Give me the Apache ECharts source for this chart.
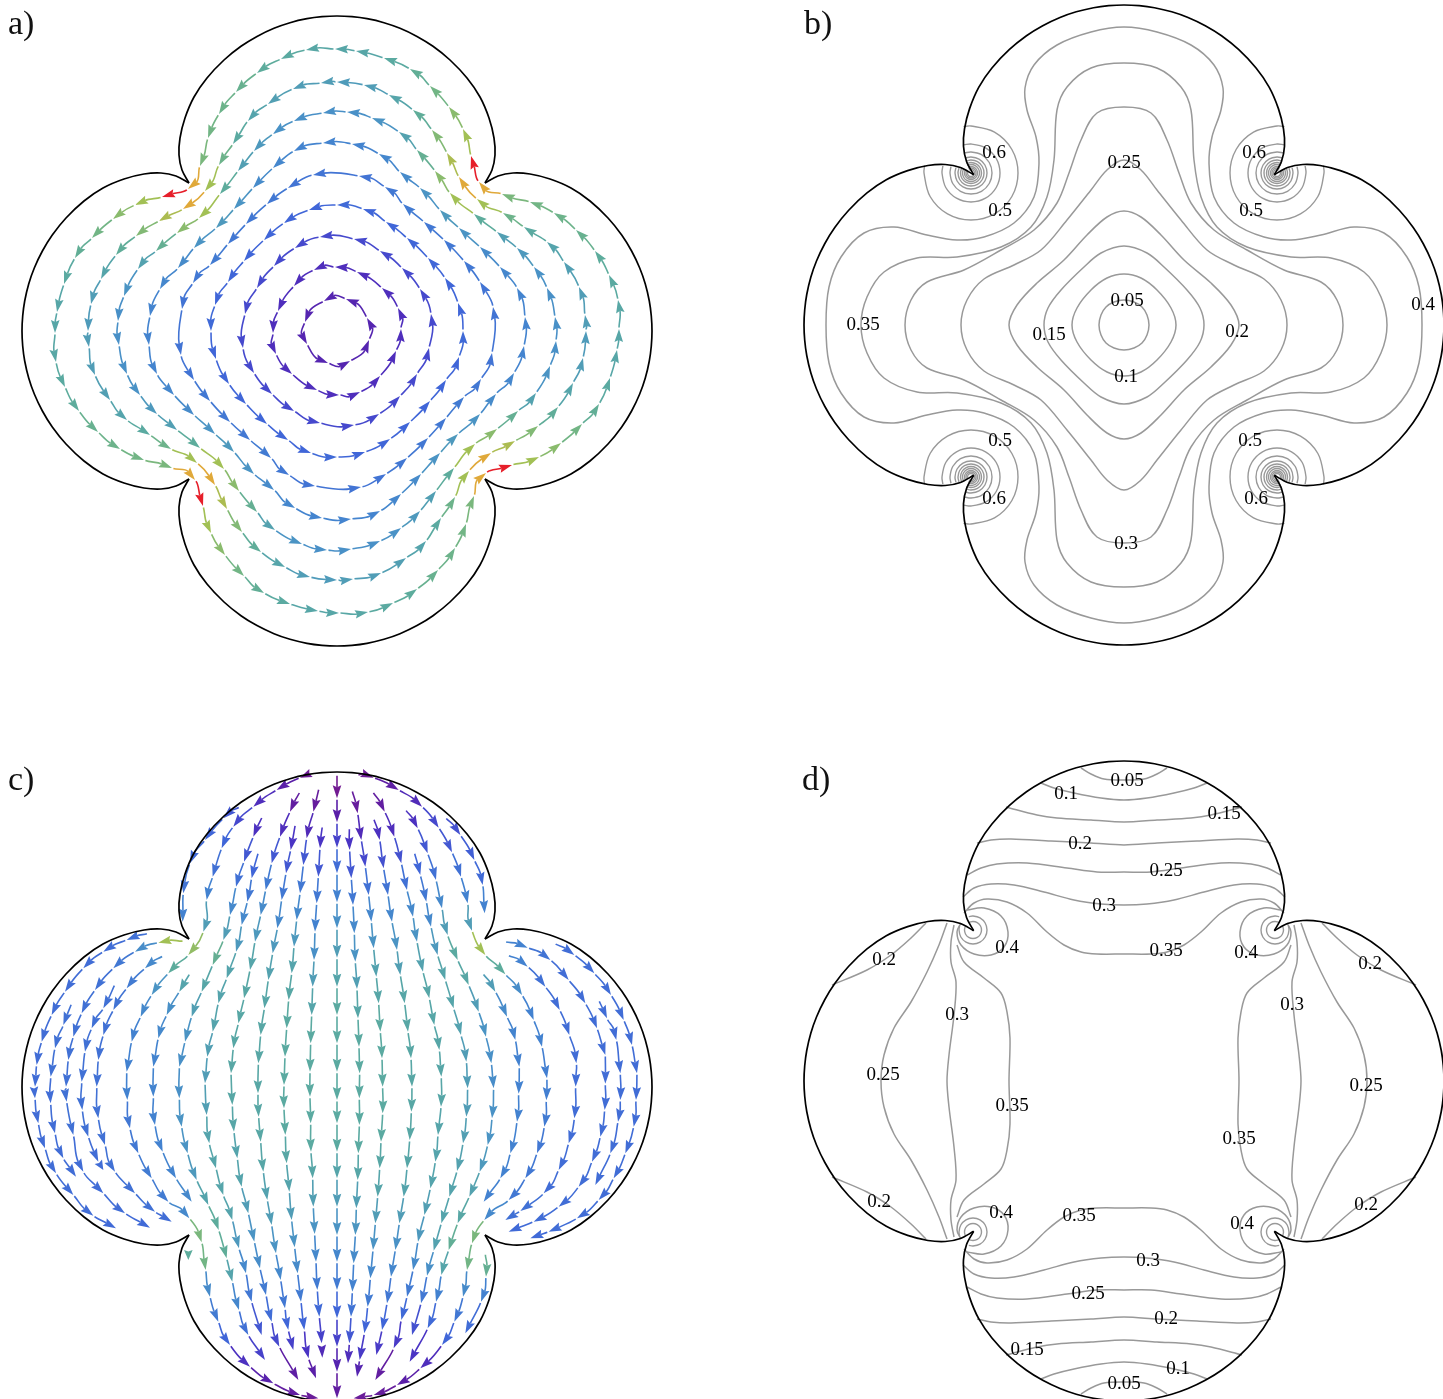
<!DOCTYPE html>
<html><head><meta charset="utf-8">
<style>html,body{margin:0;padding:0;background:#fff}#c{width:1443px;height:1399px}</style>
<script src="https://cdn.jsdelivr.net/npm/echarts@6/dist/echarts.min.js"></script>
</head><body><div id="c"></div>
<script>
// speed colour ramp
const speedStops=[[0,'#7a1a8a'],[.08,'#5a1fa8'],[.15,'#4a34c4'],[.22,'#4066d8'],[.3,'#4382d0'],[.38,'#4b94c4'],[.45,'#55a4ac'],[.52,'#5dac9c'],[.6,'#72b585'],[.72,'#a2c055'],[.85,'#e0a93a'],[.93,'#ea7c2c'],[1,'#e61f2a']];
// outline: half of one lobe, apex to cusp
const lobeHalf=[[0,315],[15,314.3],[30,312.3],[47,308.3],[63,302.7],[80,294.6],[96,284.7],[113,271],[130,253],[143,234],[152,213],[157,193],[158,176],[155,161],[148,148]];
// panel a: one quarter of each circulating streamline [x,y,speed]
const loopsA=[
[[30,13,.1],[9,32,.1]],
[[61,23,.13],[45,43,.13],[20,59,.13],[-2,64,.13]],
[[94,17,.18],[83,42,.18],[65,63,.18],[43,80,.18],[17,92,.18]],
[[121,28,.22],[108,53,.22],[91,73,.22],[70,93,.22],[49,109,.22],[26,122,.22],[0,126,.23]],
[[156,24,.26],[143,49,.26],[127,70,.27],[107,91,.27],[87,109,.27],[66,127,.28],[48,144,.27],[22,155,.26]],
[[188,14,.31],[180,43,.31],[163,64,.32],[143,84,.34],[122,103,.38],[103,121,.4],[83,143,.38],[63,159,.34],[42,177,.32],[15,187,.31]],
[[218,14,.36],[210,43,.36],[197,64,.37],[180,83,.4],[160,99,.43],[137,117,.52],[113,138,.72],[98,160,.66],[80,181,.55],[62,199,.44],[35,213,.38],[10,219,.36]],
[[248,16,.42],[242,44,.42],[227,69,.43],[210,89,.45],[187,104,.5],[166,118,.58],[140,132,.72],[122,154,.85],[110,178,.74],[95,201,.64],[76,221,.53],[52,236,.46],[27,246,.42],[0,249,.41]],
[[281,31,.48],[272,56,.5],[258,80,.52],[239,101,.56],[217,118,.58],[193,129,.6],[165,137,.62],[142,149,.85],[134,175,1],[126,202,.72],[112,224,.66],[93,245,.6],[73,262,.54],[47,273,.5],[19,280,.47],[-2,282,.47]]
];
// panel b: quarter contours, top to right
const contoursB=[
[[0,25],[10,23],[18,18],[23,10],[25,0]],
[[0,51],[17,47],[33,35],[47,17],[52,0]],
[[0,79],[23,72],[40,58],[63,35],[76,17],[80,0]],
[[0,114],[17,108],[37,90],[60,65],[87,42],[107,20],[115,0]],
[[0,165],[17,155],[33,135],[57,105],[83,75],[110,60],[140,46],[157,25],[163,0]],
[[0,218],[27,212],[43,185],[55,152],[67,122],[90,95],[123,75],[160,55],[197,43],[213,25],[219,0]],
[[0,262],[33,257],[57,238],[67,215],[70,165],[77,128],[93,98],[123,78],[167,68],[207,67],[240,53],[257,28],[263,0]],
[[0,298],[33,293],[67,280],[90,260],[99,237],[97,215],[88,188],[85,162],[90,128],[110,102],[140,88],[167,85],[197,90],[230,98],[260,92],[283,68],[295,38],[298,0]]
];
// rings round the cusp: [radius, x-fraction where the ring meets the outline]
const ringsB=[[47,.16],[29,.24],[21,.3],[16,.34],[13,.38],[10.5,.42],[8.5,.45],[6.5,.47],[5,.5],[3.5,.5]];
const ringCentreB=[153,152];
const ringArc=[[0,1],[-.5,.87],[-.87,.5],[-1,0],[-.87,-.5],[-.5,-.87],[0,-1],[.5,-.87],[.87,-.5],[1,0]];
const labelsB=[[-130,173,'0.6'],[-124,115,'0.5'],[130,173,'0.6'],[127,115,'0.5'],[0,163,'0.25'],[-261,1,'0.35'],[299,21,'0.4'],[3,25,'0.05'],[-75,-9,'0.15'],[113,-6,'0.2'],[2,-51,'0.1'],[-124,-115,'0.5'],[126,-115,'0.5'],[-130,-173,'0.6'],[132,-173,'0.6'],[2,-218,'0.3']];
// panel c: streamlines [x,y,speed], first point is the tail
const topLeftC=[
[[-44,783],[-51,716,.15],[-56,631,.2],[-61,551,.27],[-66,466,.3],[-69,381,.36],[-73,301,.42],[-76,216,.46],[-79,131,.5],[-81,46,.5]],
[[-54,896],[-71,826,.05],[-91,746,.12],[-101,666,.2],[-111,581,.27],[-121,501,.33],[-129,421,.4],[-136,341,.45],[-145,261,.48],[-151,176,.5],[-156,91,.5],[-159,6,.5]],
[[-111,886],[-141,826,.06],[-171,751,.13],[-196,671,.2],[-214,591,.28],[-229,516,.34],[-246,436,.4],[-261,351,.46],[-279,266,.48],[-296,191,.48],[-311,116,.48],[-318,41,.48]],
[[-125,788],[-139,711,.15],[-153,641,.2],[-166,561,.27],[-179,476,.33],[-193,401,.4],[-206,321,.44],[-218,236,.47],[-229,156,.48],[-236,71,.48]],
[[-236,704],[-256,626,.22],[-269,556,.27],[-286,486,.33],[-303,406,.4],[-331,326,.45],[-356,251,.45],[-373,166,.45],[-389,91,.43],[-396,11,.42]],
[[-224,811],[-251,751,.14],[-279,676,.2],[-303,601,.25],[-321,516,.33],[-341,441,.42],[-373,366,.55],[-406,286,.47],[-436,211,.43],[-456,136,.38],[-473,61,.36]],
[[-76,936],[-111,928,.03],[-181,891,.08],[-251,841,.13],[-311,781,.18],[-346,716,.22],[-373,631,.25],[-391,561,.3],[-401,466,.42],[-446,396,.68],[-506,341,.52],[-556,276,.38],[-589,211,.33],[-616,136,.3],[-631,46,.3]],
[[-291,841],[-341,806,.2],[-396,741,.22],[-441,671,.23],[-461,581,.26],[-463,496,.3]],
[[-441,341],[-473,286,.45],[-511,216,.36],[-536,146,.33],[-551,61,.31]],
[[-521,394],[-576,356,.33],[-631,296,.28],[-671,231,.26],[-701,156,.25],[-716,81,.25],[-721,1,.25]],
[[-459,438],[-536,433,.72],[-606,406,.35],[-671,356,.27],[-726,291,.25],[-766,221,.25],[-791,151,.25],[-806,81,.25],[-813,1,.25]],
[[-666,308],[-701,236,.25],[-736,176,.25],[-756,106,.25],[-766,16,.25]],
[[-796,251],[-821,186,.25],[-846,116,.25],[-859,31,.25]],
[[-566,461],[-631,441,.25],[-701,406,.24],[-761,356,.24],[-816,286,.24],[-856,216,.24],[-886,136,.24],[-901,66,.24],[-906,1,.24]]
];
const bottomLeftC=[
[[-81,46],[-81,-29,.5],[-79,-109,.5],[-78,-194,.5],[-73,-274,.47],[-71,-359,.43],[-67,-441,.38],[-63,-524,.33],[-59,-609,.28],[-53,-689,.23],[-46,-769,.17],[-44,-812,.12]],
[[-159,6],[-159,-64,.5],[-155,-144,.5],[-151,-229,.48],[-143,-314,.45],[-136,-399,.42],[-127,-481,.38],[-118,-559,.34],[-108,-644,.28],[-98,-729,.22],[-85,-814,.15],[-63,-874,.08]],
[[-236,71],[-237,-19,.48],[-235,-89,.48],[-229,-164,.48],[-221,-254,.47],[-209,-339,.44],[-196,-414,.42],[-183,-499,.38],[-169,-579,.33],[-156,-664,.27],[-146,-729,.22],[-131,-789,.17]],
[[-318,41],[-314,-54,.48],[-309,-134,.47],[-299,-214,.45],[-286,-299,.45],[-266,-379,.42],[-248,-464,.38],[-231,-544,.35],[-213,-624,.28],[-196,-704,.24],[-173,-779,.18],[-116,-879,.07]],
[[-396,11],[-391,-84,.43],[-383,-169,.45],[-363,-244,.46],[-341,-324,.46],[-314,-399,.45],[-294,-484,.4],[-273,-559,.33],[-256,-644,.27],[-226,-744,.2]],
[[-473,61],[-473,-34,.36],[-466,-119,.38],[-448,-199,.38],[-421,-279,.4],[-386,-354,.45],[-355,-429,.52],[-331,-514,.53],[-314,-584,.45],[-294,-669,.32],[-266,-744,.25],[-216,-819,.17]],
[[-551,61],[-551,-29,.31],[-546,-114,.3],[-523,-194,.3],[-483,-274,.31],[-436,-344,.33]],
[[-631,46],[-629,-39,.3],[-621,-124,.27],[-596,-199,.27],[-556,-274,.28],[-506,-344,.28],[-443,-394,.33],[-406,-466,.62],[-394,-549,.6],[-381,-629,.34],[-356,-704,.28],[-321,-774,.22],[-261,-839,.14],[-191,-889,.09],[-111,-924,.06],[-56,-934,.04]],
[[-446,-489],[-446,-519,.52]],
[[-721,1],[-716,-94,.25],[-696,-174,.25],[-666,-254,.25],[-606,-319,.25],[-546,-374,.25],[-496,-404,.24]],
[[-766,16],[-764,-69,.25],[-746,-149,.25],[-716,-224,.24],[-701,-249,.24]],
[[-813,1],[-811,-44,.25],[-791,-144,.25],[-761,-254,.24],[-701,-319,.24],[-636,-379,.24],[-561,-422,.23]],
[[-859,31],[-859,-49,.24],[-846,-139,.24],[-821,-214,.24],[-783,-269,.24]],
[[-906,1],[-906,-34,.24],[-896,-109,.24],[-876,-184,.24],[-843,-259,.24],[-791,-324,.24],[-731,-386,.24],[-663,-424,.23]]
];
const topRightC=[
[[37,778],[38,711,.15],[43,626,.2],[48,546,.27],[52,461,.33],[55,376,.38],[60,294,.43],[63,206,.47],[66,121,.5],[68,41,.5]],
[[45,891],[62,821,.05],[73,741,.12],[85,661,.18],[95,576,.25],[103,496,.32],[110,416,.38],[118,331,.44],[125,251,.47],[130,166,.5],[135,86,.5],[137,1,.5]],
[[110,806],[128,741,.14],[140,656,.19],[153,576,.26],[165,496,.32],[180,411,.38],[190,336,.43],[203,251,.47],[213,166,.48],[222,86,.48],[225,1,.48]],
[[107,886],[143,826,.06],[172,751,.13],[193,671,.19],[210,591,.25],[228,511,.33],[240,436,.38],[258,346,.44],[277,266,.47],[292,186,.47],[307,111,.47],[313,31,.47]],
[[232,704],[250,636,.22],[268,556,.27],[282,481,.33],[302,396,.4],[325,321,.46],[350,236,.46],[372,156,.44],[388,76,.42],[392,-4,.42]],
[[205,833],[242,776,.14],[272,701,.2],[297,621,.25],[315,536,.33],[332,456,.42],[362,381,.5],[395,306,.48],[425,226,.42],[447,151,.38],[463,71,.36],[470,-4,.35]],
[[60,938],[110,928,.03],[185,891,.07],[255,841,.12],[305,778,.18],[345,704,.2],[372,631,.25],[392,551,.3],[405,469,.42],[445,396,.72],[505,338,.52],[555,276,.35],[590,201,.3],[615,121,.3],[630,26,.29]],
[[325,809],[370,756,.19],[412,681,.21],[437,606,.23],[443,521,.3]],
[[437,341],[475,286,.42],[510,211,.34],[535,141,.31],[547,61,.3]],
[[512,396],[572,361,.3],[625,301,.25],[668,231,.24],[697,156,.24],[718,71,.24],[716,1,.24]],
[[503,436],[572,418,.3],[640,381,.26],[695,321,.24],[745,251,.24],[780,176,.24],[805,96,.24]],
[[652,431],[712,396,.24],[772,341,.24],[822,276,.24],[860,201,.24],[885,126,.24],[900,41,.24]],
[[785,261],[810,206,.24],[838,141,.24],[850,41,.24]]
];
const bottomRightC=[
[[68,41],[67,-34,.5],[67,-114,.5],[64,-199,.5],[62,-279,.47],[58,-364,.43],[55,-444,.39],[50,-529,.34],[46,-614,.3],[42,-689,.26],[37,-769,.2],[33,-829,.13]],
[[137,1],[137,-79,.5],[132,-164,.5],[128,-244,.48],[122,-329,.46],[115,-409,.42],[108,-489,.38],[100,-574,.33],[92,-659,.28],[82,-739,.22],[68,-819,.16],[60,-869,.1]],
[[225,1],[223,-74,.48],[218,-159,.48],[210,-244,.47],[200,-329,.45],[187,-409,.42],[175,-489,.37],[162,-569,.32],[150,-649,.27],[135,-729,.22],[118,-804,.16]],
[[313,31],[312,-59,.47],[303,-144,.46],[295,-224,.45],[280,-304,.45],[262,-384,.43],[243,-464,.4],[228,-549,.34],[210,-629,.28],[193,-699,.23],[170,-784,.16],[115,-879,.06]],
[[392,-4],[388,-89,.42],[378,-169,.43],[360,-252,.44],[337,-329,.45],[313,-409,.45],[290,-491,.44],[270,-566,.36],[252,-649,.27],[225,-744,.19]],
[[470,-4],[465,-94,.37],[452,-174,.38],[428,-254,.4],[397,-329,.44],[362,-409,.48],[335,-489,.54],[313,-564,.46],[297,-644,.3],[272,-724,.23],[218,-824,.15]],
[[547,61],[545,-20,.3],[540,-104,.3],[520,-199,.3],[490,-274,.3],[440,-344,.3]],
[[630,26],[628,-40,.29],[622,-119,.28],[600,-199,.27],[565,-274,.27],[515,-339,.27],[442,-399,.33],[405,-469,.62],[390,-549,.6],[378,-629,.34],[352,-704,.27],[315,-774,.22],[250,-844,.13],[180,-894,.08],[110,-924,.05],[50,-934,.04]],
[[716,1],[712,-94,.24],[695,-169,.24],[665,-249,.24],[620,-319,.24],[550,-372,.25],[505,-399,.25]],
[[805,96],[805,10,.24],[803,-69,.24],[790,-149,.24],[765,-224,.24],[725,-299,.24],[665,-359,.24],[590,-404,.24],[515,-434,.23]],
[[850,41],[850,-39,.24],[843,-104,.24],[820,-199,.24],[775,-294,.24]],
[[900,41],[897,-39,.24],[890,-119,.24],[865,-199,.24],[830,-274,.24],[785,-339,.24],[720,-394,.24],[635,-434,.24],[580,-454,.23]],
[[445,-499],[447,-569,.55],[432,-644,.3],[385,-739,.24]]
];
const centreLineC=[[0,938],[0,866,.02],[0,794,.08],[0,718,.17],[0,641,.24],[0,554,.3],[0,476,.36],[0,388,.42],[0,301,.46],[0,216,.5],[0,131,.5],[0,46,.5],[0,-39,.5],[0,-109,.5],[0,-194,.5],[0,-274,.46],[0,-359,.42],[0,-444,.38],[0,-524,.32],[0,-609,.28],[0,-694,.22],[0,-779,.17],[0,-854,.1],[0,-934,.06]];
// panel d
const capLinesD=[ // across the top lobe, right half, from centre line to outline
[[0,301],[20,302],[33,307],[43,313]],
[[0,281],[23,283],[50,288],[70,293],[83,298]],
[[0,259],[33,261],[67,263],[87,266],[118,274]],
[[0,236],[33,238],[73,240],[113,242],[133,241],[147,238]],
[[0,209],[27,209],[57,213],[97,218],[127,217],[143,213],[157,206]],
[[0,176],[23,177],[50,181],[80,189],[110,196],[133,197],[150,193],[161,184]],
[[0,127],[27,127],[43,129],[60,136],[77,149],[97,168],[117,179],[137,182],[150,178],[160,168]]
];
const sideLinesD=[ // from the cusp down to the horizontal mid line
[[167,136],[160,119],[140,103],[123,88],[117,69],[114,43],[115,0]],
[[170,156],[173,139],[173,119],[168,99],[170,66],[175,26],[177,0]],
[[177,158],[185,136],[197,109],[213,79],[230,53],[240,26],[243,0]]
];
const cornerLinesD=[
[[198,158],[213,143],[233,126],[257,111],[292,96]],
[[157,171],[140,173],[123,165],[116,149],[120,134],[133,126],[150,127],[163,136],[167,149],[163,158]]
];
const ringsD=[[14,.3],[8.5,.42]];
const ringCentreD=[151,151];
const labelsD=[[3,301,'0.05'],[-58,288,'0.1'],[100,268,'0.15'],[-44,238,'0.2'],[42,211,'0.25'],[-20,176,'0.3'],[42,131,'0.35'],[-117,134,'0.4'],[122,129,'0.4'],[-240,122,'0.2'],[246,118,'0.2'],[-167,67,'0.3'],[168,77,'0.3'],[-241,7,'0.25'],[242,-4,'0.25'],[-112,-24,'0.35'],[115,-57,'0.35'],[-245,-120,'0.2'],[242,-123,'0.2'],[-123,-131,'0.4'],[118,-142,'0.4'],[-45,-134,'0.35'],[24,-179,'0.3'],[-36,-212,'0.25'],[42,-237,'0.2'],[-97,-268,'0.15'],[54,-287,'0.1'],[0,-302,'0.05']];
const panelNames=['a)','b)','c)','d)'];

const SERIF='"Liberation Serif","Times New Roman",serif';
function hex(c){return [1,3,5].map(i=>parseInt(c.substr(i,2),16));}
function speedColor(s){
  for(let i=1;i<speedStops.length;i++){
    if(s<=speedStops[i][0]){
      const a=speedStops[i-1],b=speedStops[i],t=(s-a[0])/(b[0]-a[0]),A=hex(a[1]),B=hex(b[1]);
      return 'rgb('+A.map((v,k)=>Math.round(v+(B[k]-v)*t)).join(',')+')';
    }
  }
  return speedStops[speedStops.length-1][1];
}
const mx=p=>p.map(q=>[-q[0],q[1]]), my=p=>p.map(q=>[q[0],-q[1]]), mxy=p=>p.map(q=>[-q[0],-q[1]]);
const sc=(p,k)=>p.map(q=>[q[0]*k,q[1]*k]);
const unit=(x,y)=>{const L=Math.hypot(x,y)||1;return [x/L,y/L];};

const grids=[{left:0,top:0,width:720,height:700},{left:720,top:0,width:723,height:700},{left:0,top:700,width:720,height:699},{left:720,top:700,width:723,height:699}];
const xAxes=[[-337,383],[-404,319],[-1011,1149],[-404,319]].map((r,i)=>({type:'value',gridIndex:i,min:r[0],max:r[1],show:false}));
const yAxes=[[-369,331],[-375,325],[-936,1161],[-318,381]].map((r,i)=>({type:'value',gridIndex:i,min:r[0],max:r[1],show:false}));

const series=[];
function smoothPath(P,closed){
  const n=P.length,get=i=>closed?P[(i+n)%n]:P[Math.max(0,Math.min(n-1,i))];
  const tan=i=>{const a=get(i-1),b=get(i+1);return unit(b[0]-a[0],b[1]-a[1]);};
  let d='M'+P[0][0]+' '+P[0][1];
  const m=closed?n:n-1;
  for(let i=0;i<m;i++){
    const a=get(i),b=get(i+1),L=Math.hypot(b[0]-a[0],b[1]-a[1])/3,t0=tan(i),t1=tan(i+1);
    d+='C'+(a[0]+t0[0]*L)+' '+(a[1]+t0[1]*L)+' '+(b[0]-t1[0]*L)+' '+(b[1]-t1[1]*L)+' '+b[0]+' '+b[1];
  }
  return d+(closed?'Z':'');
}
function curveSeries(g,curves,z){
  series.push({type:'custom',xAxisIndex:g,yAxisIndex:g,silent:true,animation:false,z:z,clip:true,
    encode:{x:0,y:1},data:curves.map((c,i)=>[c.pts[0][0],c.pts[0][1],i]),
    renderItem(params,api){
      const c=curves[api.value(2)],P=c.pts.map(q=>api.coord(q));
      return {type:'path',shape:{pathData:smoothPath(P,c.closed)},style:{fill:'none',stroke:c.color,lineWidth:c.width}};
    }});
}
function outline(g,k){
  const half=sc(lobeHalf,k);
  const lobe=mx(half).reverse().concat(half.slice(1));
  const rot=p=>p.map(q=>[q[1],-q[0]]);
  let cur=lobe;const out=[];
  for(let i=0;i<4;i++){out.push({pts:cur,color:'#000',width:1.7});cur=rot(cur);}
  curveSeries(g,out,5);
}
function arrowSeries(g,segs){
  series.push({type:'custom',xAxisIndex:g,yAxisIndex:g,silent:true,animation:false,z:3,clip:true,
    encode:{x:[0,2],y:[1,3]},data:segs,
    renderItem(params,api){
      const v=i=>api.value(i);
      const a=api.coord([v(0),v(1)]),b=api.coord([v(2),v(3)]),p=api.coord([v(5),v(6)]),n=api.coord([v(7),v(8)]);
      const col=speedColor(v(4));
      const L=Math.hypot(b[0]-a[0],b[1]-a[1])||1;
      const t0=unit(b[0]-p[0],b[1]-p[1]),t1=unit(n[0]-a[0],n[1]-a[1]);
      const hl=Math.min(13,L),hw=4.3,gap=1.5;
      const nx=-t1[1],ny=t1[0];
      const base=[b[0]-t1[0]*hl,b[1]-t1[1]*hl],notch=[b[0]-t1[0]*hl*.85,b[1]-t1[1]*hl*.85];
      const kids=[{type:'polygon',shape:{points:[b,[base[0]+nx*hw,base[1]+ny*hw],notch,[base[0]-nx*hw,base[1]-ny*hw]]},style:{fill:col}}];
      if(L>hl+gap){
        const s=[a[0]+t0[0]*gap,a[1]+t0[1]*gap],l=(L-hl)/3;
        kids.unshift({type:'path',shape:{pathData:'M'+s[0]+' '+s[1]+'C'+(s[0]+t0[0]*l)+' '+(s[1]+t0[1]*l)+' '+(notch[0]-t1[0]*l)+' '+(notch[1]-t1[1]*l)+' '+notch[0]+' '+notch[1]},style:{fill:'none',stroke:col,lineWidth:1.6}});
      }
      return {type:'group',children:kids};
    }});
}
function chain(line,segs,closed){
  const n=line.length,get=i=>closed?line[(i+n)%n]:line[Math.max(0,Math.min(n-1,i))];
  for(let i=closed?0:1;i<n;i++){
    const a=get(i-1),b=get(i),p=get(i-2),q=get(i+1);
    segs.push([a[0],a[1],b[0],b[1],b[2],p[0],p[1],q[0],q[1]]);
  }
}
function labelSeries(g,list){
  series.push({type:'scatter',xAxisIndex:g,yAxisIndex:g,silent:true,animation:false,z:6,symbolSize:1,itemStyle:{color:'transparent'},data:list,
    label:{show:true,position:'inside',offset:[0,1],formatter:p=>p.value[2],fontFamily:SERIF,fontSize:19,color:'#000',textBorderWidth:0,opacity:1}});
}
function ringCurves(rings,c,width){
  const out=[];
  rings.forEach(([r,f])=>{
    const g=Math.sqrt(1-f*f);
    const arc=[[f,g]].concat(ringArc,[[g,f]]);
    const pts=arc.map(u=>[c[0]+u[0]*r,c[1]+u[1]*r]);
    [pts,mx(pts),my(pts),mxy(pts)].forEach(p=>out.push({pts:p,color:'#999',width:width}));
  });
  return out;
}

// panel a
outline(0,1);
{const segs=[];
 loopsA.forEach(q=>{
   let loop=[];let cur=q;
   for(let i=0;i<4;i++){loop=loop.concat(cur);cur=cur.map(p=>[-p[1],p[0],p[2]]);}
   chain(loop,segs,true);
 });
 arrowSeries(0,segs);}

// panel b
outline(1,320/315);
{const cs=contoursB.map(q=>({pts:q.concat(my(q).reverse().slice(1),mxy(q).slice(1),mx(q).reverse().slice(1,-1)),color:'#999',width:1.5,closed:true}));
 curveSeries(1,cs.concat(ringCurves(ringsB,ringCentreB,1.4)),2);}
labelSeries(1,labelsB);

// panel c
outline(2,3);
{const segs=[];
 [centreLineC].concat(topLeftC,bottomLeftC,topRightC,bottomRightC).forEach(l=>chain(l,segs,false));
 arrowSeries(2,segs);}

// panel d
outline(3,320/315);
{const cs=[],add=p=>cs.push({pts:p,color:'#999',width:1.5});
 capLinesD.forEach(q=>{const line=mx(q).reverse().concat(q.slice(1));add(line);add(my(line));});
 sideLinesD.forEach(q=>{const line=q.concat(my(q).reverse().slice(1));add(line);add(mx(line));});
 cornerLinesD.forEach(q=>{[q,mx(q),my(q),mxy(q)].forEach(add);});
 curveSeries(3,cs.concat(ringCurves(ringsD,ringCentreD,1.4)),2);}
labelSeries(3,labelsD);

const titlePos=[[8,8],[804,8],[8,764],[802,764]];
const chart=echarts.init(document.getElementById('c'),null,{renderer:'canvas'});
chart.setOption({animation:false,backgroundColor:'#fff',
  title:panelNames.map((t,i)=>({text:t,left:titlePos[i][0],top:titlePos[i][1],padding:0,textStyle:{fontFamily:SERIF,fontWeight:'normal',fontSize:34,color:'#111'}})),
  grid:grids,xAxis:xAxes,yAxis:yAxes,series});
</script></body></html>
